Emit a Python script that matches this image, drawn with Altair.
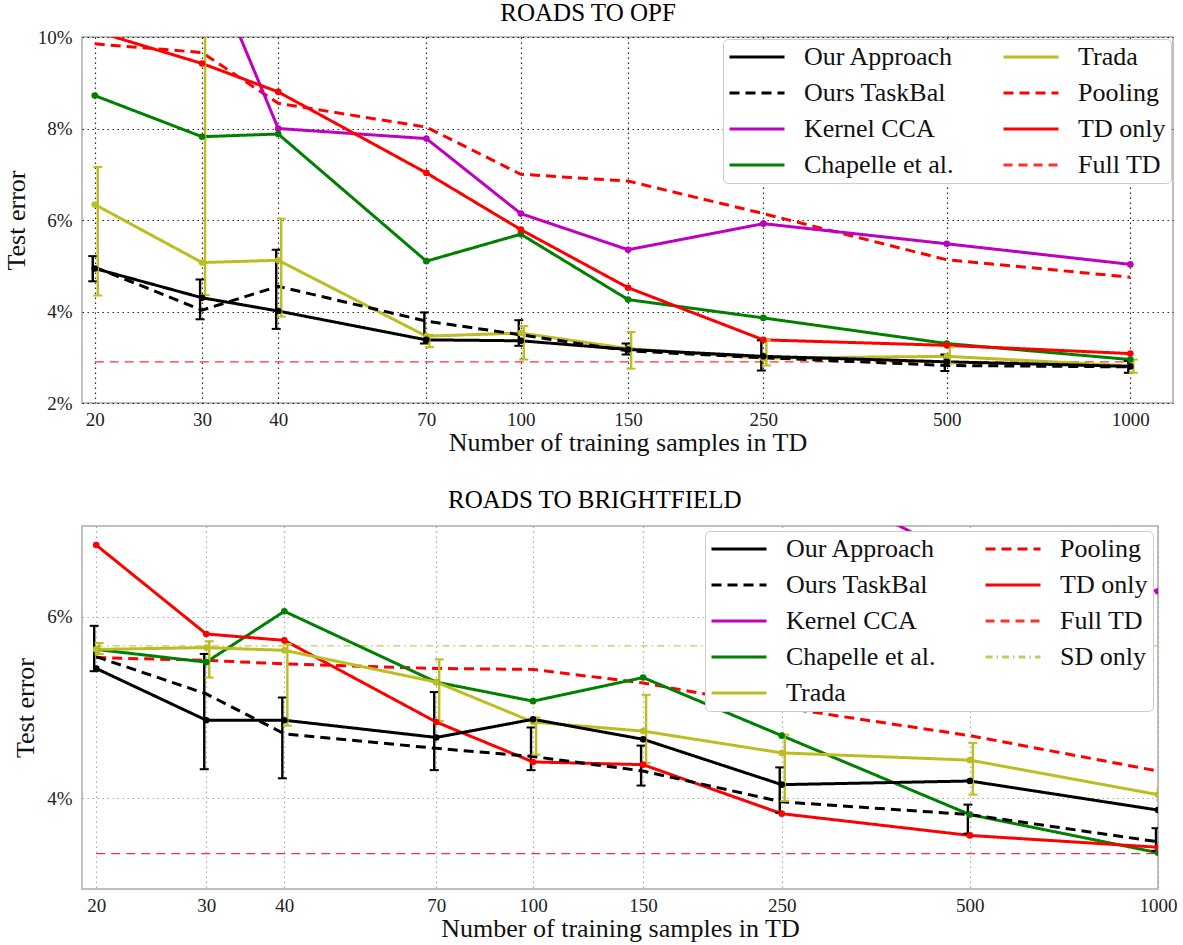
import altair as alt
import pandas as pd

FONT = "Liberation Serif"

N = [20, 30, 40, 70, 100, 150, 250, 500, 1000]

# ---------------- Roads to OPF (test error, %) ----------------
opf_ours = [4.94, 4.30, 4.01, 3.38, 3.36, 3.17, 3.02, 2.90, 2.80]
opf_ours_lo = [4.66, 3.83, 3.62, 3.30, 3.25, 3.06, 2.71, 2.70, 2.66]
opf_ours_hi = [5.21, 4.70, 5.35, 3.98, 3.81, 3.30, 3.37, 3.06, 2.92]
opf_taskbal = [4.97, 4.03, 4.55, 3.79, 3.49, 3.14, 2.99, 2.82, 2.79]
opf_kcca = [14.0, 12.0, 8.00, 7.78, 6.14, 5.35, 5.92, 5.48, 5.03]
opf_chapelle = [8.72, 7.82, 7.88, 5.10, 5.69, 4.26, 3.86, 3.30, 2.95]
opf_trada = [6.34, 5.07, 5.12, 3.46, 3.53, 3.19, 2.98, 3.02, 2.81]
opf_trada_lo = [4.35, 4.36, 3.89, 3.22, 2.95, 2.75, 2.82, 2.86, 2.66]
opf_trada_hi = [7.16, 10.8, 6.03, 3.49, 3.68, 3.55, 3.38, 3.22, 2.95]
opf_pooling = [9.85, 9.66, 8.55, 8.03, 7.00, 6.85, 6.14, 5.13, 4.75]
opf_tdonly = [10.13, 9.42, 8.80, 7.03, 5.79, 4.52, 3.38, 3.26, 3.08]
opf_fulltd = [2.90, 2.90, 2.90, 2.90, 2.90, 2.90, 2.90, 2.90, 2.90]

# ---------------- Roads to Brightfield (test error, %) ----------------
bf_ours = [5.43, 4.86, 4.86, 4.67, 4.87, 4.65, 4.15, 4.19, 3.87]
bf_ours_lo = [5.40, 4.32, 4.22, 4.31, 4.31, 4.14, 3.84, 3.61, 3.42]
bf_ours_hi = [5.90, 5.59, 5.11, 5.17, 4.78, 4.58, 4.34, 3.93, 3.67]
bf_taskbal = [5.56, 5.15, 4.71, 4.55, 4.46, 4.30, 3.96, 3.82, 3.52]
bf_kcca = [9.5, 9.0, 8.6, 8.2, 8.0, 7.9, 7.67, 6.6, 6.28]
bf_chapelle = [5.64, 5.50, 6.06, 5.28, 5.07, 5.33, 4.69, 3.82, 3.40]
bf_trada = [5.64, 5.66, 5.63, 5.28, 4.84, 4.74, 4.50, 4.42, 4.04]
bf_trada_lo = [5.59, 5.33, 4.80, 4.85, 4.48, 4.39, 3.97, 4.04, 3.98]
bf_trada_hi = [5.71, 5.73, 5.70, 5.53, 4.89, 5.14, 4.70, 4.61, 4.10]
bf_pooling = [5.55, 5.52, 5.48, 5.43, 5.42, 5.27, 5.00, 4.69, 4.30]
bf_tdonly = [6.79, 5.81, 5.74, 4.84, 4.40, 4.37, 3.83, 3.59, 3.46]
bf_fulltd = [3.39, 3.39, 3.39, 3.39, 3.39, 3.39, 3.39, 3.39, 3.39]
bf_sdonly = [5.68, 5.68, 5.68, 5.68, 5.68, 5.68, 5.68, 5.68, 5.68]

# ---------------- styles: colour, dash, thick line?, marker? ----------------
STYLE = {
    "Our Approach":    ("#000000", [1, 0], True, True),
    "Ours TaskBal":    ("#000000", [10, 6], True, False),
    "Kernel CCA":      ("#bf00bf", [1, 0], True, True),
    "Chapelle et al.": ("#008000", [1, 0], True, True),
    "Trada":           ("#bcbd22", [1, 0], True, True),
    "Pooling":         ("#ff0000", [10, 6], True, False),
    "TD only":         ("#ff0000", [1, 0], True, True),
    "Full TD":         ("#ff3030", [9, 6], False, False),
    "SD only":         ("#c8c85a", [7, 4, 1.5, 4], False, False),
}


def long_df(series):
    rows = []
    for name, vals in series.items():
        for n, v in zip(N, vals):
            rows.append({"n": n, "err": v, "method": name, "col": STYLE[name][0]})
    return pd.DataFrame(rows)


def bars_df(lo, hi, color):
    return pd.DataFrame({"n": N, "lo": lo, "hi": hi, "col": [color] * len(N)})


def panel(title, series, order, bars, ydom, yticks, xdom, w, h,
          grid_color, grid_opacity, legend_offset, title_offset):
    df = long_df(series)
    xenc = alt.X(
        "n:Q",
        scale=alt.Scale(type="log", domain=xdom, nice=False),
        axis=alt.Axis(values=N, format="d", title="Number of training samples in TD",
                      labelFlush=False, labelOverlap=False, labelPadding=7, titlePadding=0,
                      grid=True, gridColor=grid_color, gridDash=[1.5, 3.5],
                      gridOpacity=grid_opacity, gridWidth=1.2),
    )
    yenc = alt.Y(
        "err:Q",
        scale=alt.Scale(domain=ydom, nice=False, zero=False),
        axis=alt.Axis(values=yticks, labelExpr="datum.value + '%'", title="Test error",
                      labelPadding=10, titlePadding=8,
                      grid=True, gridColor=grid_color, gridDash=[1.5, 3.5],
                      gridOpacity=grid_opacity, gridWidth=1.2),
    )
    legend = alt.Legend(
        title=None, orient="top-right", columns=2, symbolType="stroke",
        symbolSize=3025, symbolStrokeWidth=3, labelFont=FONT, labelFontSize=26,
        labelColor="#111", clipHeight=26, rowPadding=10, columnPadding=48,
        labelOffset=18, padding=5,
        fillColor="white", strokeColor="#cccccc", cornerRadius=5,
        offset=legend_offset, symbolLimit=0, labelLimit=0,
    )
    cscale = alt.Scale(domain=order, range=[STYLE[m][0] for m in order])
    dscale = alt.Scale(domain=order, range=[STYLE[m][1] for m in order])
    thick_df = df[df["method"].map(lambda m: STYLE[m][2])]
    thin_df = df[df["method"].map(lambda m: not STYLE[m][2])]
    thin = alt.Chart(thin_df).mark_line(clip=True, strokeWidth=1.3).encode(
        x=xenc, y=yenc,
        color=alt.Color("method:N", legend=legend, scale=cscale),
        strokeDash=alt.StrokeDash("method:N", legend=legend, scale=dscale),
    )
    thick = alt.Chart(thick_df).mark_line(clip=True, strokeWidth=3).encode(
        x="n:Q", y="err:Q",
        color=alt.Color("method:N", legend=legend, scale=cscale),
        strokeDash=alt.StrokeDash("method:N", legend=legend, scale=dscale),
    )
    pts_df = df[df["method"].map(lambda m: STYLE[m][3])]
    points = alt.Chart(pts_df).mark_point(filled=True, size=44, opacity=1, clip=True).encode(
        x="n:Q", y="err:Q", color=alt.Color("col:N", scale=None, legend=None),
    )
    layers = [thin, thick]
    for bdf, off in bars:
        rule = alt.Chart(bdf).mark_rule(strokeWidth=2.4, xOffset=off, clip=True).encode(
            x="n:Q", y="lo:Q", y2="hi:Q", color=alt.Color("col:N", scale=None, legend=None))
        cap_lo = alt.Chart(bdf).mark_tick(orient="horizontal", size=9, thickness=2,
                                          xOffset=off, clip=True, opacity=1).encode(
            x="n:Q", y="lo:Q", color=alt.Color("col:N", scale=None, legend=None))
        cap_hi = alt.Chart(bdf).mark_tick(orient="horizontal", size=9, thickness=2,
                                          xOffset=off, clip=True, opacity=1).encode(
            x="n:Q", y="hi:Q", color=alt.Color("col:N", scale=None, legend=None))
        layers += [rule, cap_lo, cap_hi]
    layers.append(points)
    return alt.layer(*layers).properties(
        width=w, height=h,
        title=alt.TitleParams(title, font=FONT, fontSize=25, fontWeight="normal",
                              anchor="middle", frame="bounds", offset=title_offset, dy=-4,
                              color="#000"),
    )


top = panel(
    "ROADS TO OPF",
    {
        "Full TD": opf_fulltd,
        "Pooling": opf_pooling,
        "Kernel CCA": opf_kcca,
        "Chapelle et al.": opf_chapelle,
        "TD only": opf_tdonly,
        "Trada": opf_trada,
        "Ours TaskBal": opf_taskbal,
        "Our Approach": opf_ours,
    },
    ["Our Approach", "Ours TaskBal", "Kernel CCA", "Chapelle et al.",
     "Trada", "Pooling", "TD only", "Full TD"],
    [(bars_df(opf_ours_lo, opf_ours_hi, "#000000"), -2),
     (bars_df(opf_trada_lo, opf_trada_hi, "#bcbd22"), 3)],
    [2, 10], [2, 4, 6, 8, 10], [19.06, 1175], 1091, 366, "#000000", 0.85, 2, -2,
)

bottom = panel(
    "ROADS TO BRIGHTFIELD",
    {
        "SD only": bf_sdonly,
        "Full TD": bf_fulltd,
        "Pooling": bf_pooling,
        "Kernel CCA": bf_kcca,
        "Chapelle et al.": bf_chapelle,
        "TD only": bf_tdonly,
        "Trada": bf_trada,
        "Ours TaskBal": bf_taskbal,
        "Our Approach": bf_ours,
    },
    ["Our Approach", "Ours TaskBal", "Kernel CCA", "Chapelle et al.", "Trada",
     "Pooling", "TD only", "Full TD", "SD only"],
    [(bars_df(bf_ours_lo, bf_ours_hi, "#000000"), -2),
     (bars_df(bf_trada_lo, bf_trada_hi, "#bcbd22"), 3)],
    [3, 7], [4, 6], [18.98, 1000], 1076, 363, "#aaaaaa", 1.0, 5, 9,
)

chart = alt.vconcat(top, bottom, spacing=31).resolve_scale(
    x="independent", y="independent", color="independent", strokeDash="independent",
).resolve_legend(
    color="independent", strokeDash="independent",
).properties(
    padding={"left": 2, "top": 0, "right": 0, "bottom": 0}, background="white",
).configure_view(
    stroke="#bfbfbf", strokeWidth=2,
).configure_axis(
    labelFont=FONT, titleFont=FONT, labelFontSize=19, titleFontSize=26,
    titleFontWeight="normal", labelColor="#222", titleColor="#111",
    domain=False, ticks=False,
)

chart.save("out.html", embed_options={"renderer": "svg", "actions": False})
